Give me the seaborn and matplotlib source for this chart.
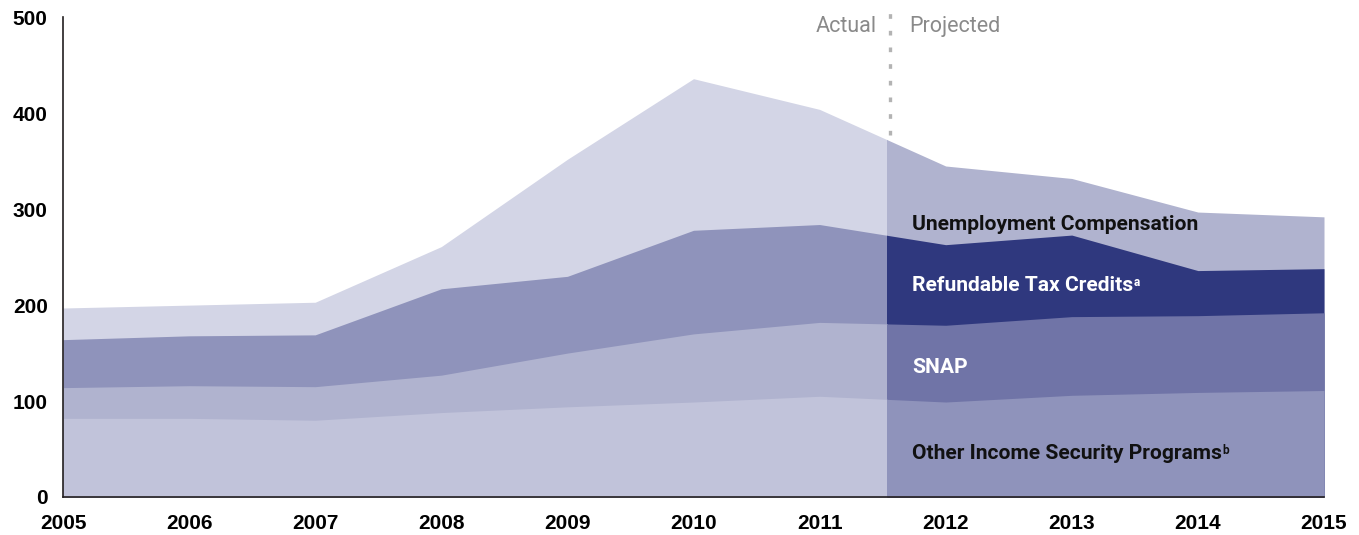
import numpy as np
import matplotlib
matplotlib.use("Agg")
import matplotlib.pyplot as plt
from matplotlib.patches import Rectangle
import seaborn as sns

years = [2005, 2006, 2007, 2008, 2009, 2010, 2011, 2012, 2013, 2014, 2015]
other = [82, 82, 80, 88, 94, 99, 105, 99, 106, 109, 111]
snap = [32, 34, 35, 39, 56, 71, 77, 80, 82, 80, 81]
refundable = [50, 52, 54, 90, 80, 108, 102, 84, 85, 47, 46]
unemployment = [33, 32, 34, 44, 122, 158, 120, 82, 59, 61, 54]
split = 2011.535

# colours: (actual, projected), bottom layer first
actual_colors = ["#c1c3da", "#b0b3cf", "#8f93bb", "#d3d5e6"]
projected_colors = ["#8f93bb", "#7074a7", "#2f387e", "#b0b3cf"]

sns.set_theme(style="white")
plt.rcParams["font.family"] = ["Liberation Sans", "DejaVu Sans"]
label_font = ["Roboto", "Liberation Sans", "DejaVu Sans"]

fig = plt.figure(figsize=(13.59, 5.35), dpi=100)
ax = fig.add_axes([0.04636, 0.07103, 0.92789, 0.89664])

layers = np.cumsum(np.array([other, snap, refundable, unemployment]), axis=0)

clip_actual = Rectangle((2004, -10), split - 2004, 700, transform=ax.transData)
clip_proj = Rectangle((split, -10), 10, 700, transform=ax.transData)

# draw from the top layer down, each from zero, so there are no seams
for i in range(3, -1, -1):
    a = ax.fill_between(years, 0, layers[i], color=actual_colors[i], linewidth=0, zorder=1)
    a.set_clip_path(clip_actual)
    p = ax.fill_between(years, 0, layers[i], color=projected_colors[i], linewidth=0, zorder=1)
    p.set_clip_path(clip_proj)

ax.set_xlim(2005, 2015)
ax.set_ylim(0, 500)
ax.set_xticks(years)
ax.set_yticks([0, 100, 200, 300, 400, 500])
ax.tick_params(axis="both", direction="in", length=5.8, width=0.8, colors="#333333",
               labelcolor="black", labelsize=15)
ax.tick_params(axis="x", pad=12.5)
ax.tick_params(axis="y", pad=11)
for lab in ax.get_xticklabels() + ax.get_yticklabels():
    lab.set_fontweight("bold")

sns.despine(ax=ax)
for s in ["left", "bottom"]:
    ax.spines[s].set_color("#231f20")
    ax.spines[s].set_linewidth(1.2)
    ax.spines[s].set_zorder(3)

# actual / projected divider
ax.plot([split + 0.025, split + 0.025], [377, 506], color="#b3b3b3", linewidth=2.4,
        linestyle=(0, (1.4, 3.6)), clip_on=False, zorder=4)
ax.text(2011.45, 485, "Actual", ha="right", va="baseline", fontsize=15.5,
        color="#8a8a8a", family=label_font)
ax.text(2011.71, 485, "Projected", ha="left", va="baseline", fontsize=15.5,
        color="#8a8a8a", family=label_font)

labels = [
    ("Unemployment Compensation", 278, "#111111", None),
    ("Refundable Tax Credits", 215, "white", "a"),
    ("SNAP", 129, "white", None),
    ("Other Income Security Programs", 40, "#111111", "b"),
]
for txt, y, col, sup in labels:
    t = ax.text(2011.733, y, txt, ha="left", va="baseline", fontsize=15.1,
                fontweight="bold", color=col, family=label_font, zorder=5)
    if sup:
        ax.annotate(sup, xy=(1, 0.97), xycoords=t, xytext=(0.3, 0),
                    textcoords="offset points", ha="left", va="top",
                    fontsize=8.5, fontweight="bold", color=col, family=label_font, zorder=5)

fig.savefig("out.png", dpi=100)
